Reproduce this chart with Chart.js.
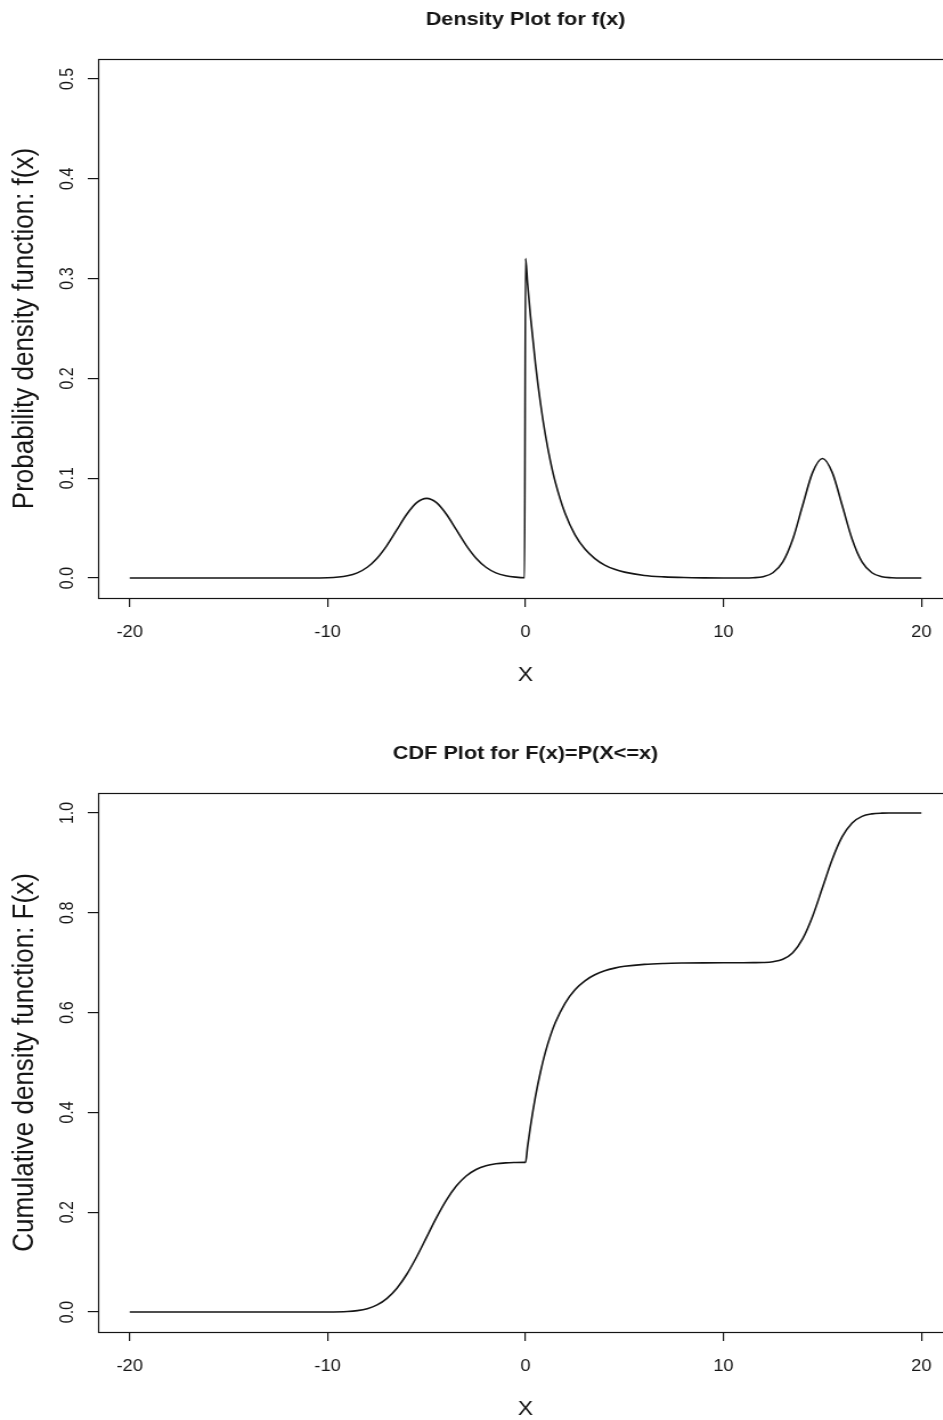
<!DOCTYPE html>
<html>
<head>
<meta charset="utf-8">
<title>Density and CDF plots</title>
<script src="https://cdn.jsdelivr.net/npm/chart.js@4.4.1/dist/chart.umd.min.js"></script>
<style>
  html, body { margin: 0; padding: 0; background: #fff; overflow: hidden; }
  body { width: 943px; height: 1420px; position: relative; }
  /* plots are drawn narrow and widened, so text is stretched like the rest */
  .panel { position: absolute; left: 0; width: 850px; height: 710px; transform: scaleX(1.14); transform-origin: 0 0; }
  #densityPanel { top: 0; }
  #cdfPanel { top: 734px; }
</style>
</head>
<body>
<div class="panel" id="densityPanel"><canvas id="densityChart" width="850" height="710"></canvas></div>
<div class="panel" id="cdfPanel"><canvas id="cdfChart" width="850" height="710"></canvas></div>
<script>
const FONT = "'Liberation Sans', Arial, Helvetica, sans-serif";
const INK = '#151515';

// mixture: normal around -5, exponential from 0, normal around 15
const xValues = [
  -20, -15, -11, -10, -9, -8.5, -8, -7.5, -7, -6.5, -6, -5.5, -5,
  -4.5, -4, -3.5, -3, -2.5, -2, -1.5, -1, -0.5, -0.05, 0, 0.1, 0.25,
  0.5, 0.75, 1, 1.25, 1.5, 2, 2.5, 3, 3.5, 4, 4.5, 5, 6, 7, 8, 9, 10,
  11, 11.5, 12, 12.5, 13, 13.5, 14, 14.5, 15, 15.5, 16, 16.5, 17, 17.5, 18, 18.5, 19, 20
];
const densityValues = [
  0, 0, 0.00003, 0.0003, 0.0023, 0.0052, 0.0108, 0.0199, 0.0328, 0.0484, 0.0639, 0.0755, 0.0798,
  0.0755, 0.0639, 0.0484, 0.0328, 0.0199, 0.0108, 0.0052, 0.0023, 0.0009, 0.0003, 0.3203, 0.2955, 0.2622,
  0.2146, 0.1756, 0.1438, 0.1177, 0.0964, 0.0646, 0.0433, 0.029, 0.0195, 0.013, 0.0087, 0.0059, 0.0026, 0.0012, 0.0005, 0.0002, 0.0001,
  0.0001, 0.0003, 0.0013, 0.0053, 0.0162, 0.0389, 0.0726, 0.1056, 0.1197, 0.1056, 0.0726, 0.0389, 0.0162, 0.0053, 0.0013, 0.0003, 0, 0
];
const cdfValues = [
  0, 0, 0, 0.0001, 0.0011, 0.0029, 0.0068, 0.0143, 0.0274, 0.0476, 0.0757, 0.1108, 0.15,
  0.1892, 0.2243, 0.2524, 0.2726, 0.2857, 0.2932, 0.2971, 0.2989, 0.2996, 0.2999, 0.2999, 0.3308, 0.3725,
  0.4319, 0.4805, 0.5203, 0.5528, 0.5795, 0.6192, 0.6459, 0.6637, 0.6757, 0.6837, 0.6891, 0.6927, 0.6967, 0.6985, 0.6993, 0.6997, 0.6999,
  0.7, 0.7001, 0.7004, 0.7019, 0.7068, 0.72, 0.7476, 0.7926, 0.85, 0.9074, 0.9524, 0.98, 0.9932, 0.9981, 0.9996, 0.9999, 1, 1
];
const xTicks = [-20, -10, 0, 10, 20];
const densityTicks = [0, 0.1, 0.2, 0.3, 0.4, 0.5];
const cdfTicks = [0, 0.2, 0.4, 0.6, 0.8, 1.0];

// box round the plot region and the bold main title centred over it
const framePlugin = {
  id: 'frame',
  afterDraw(chart, args, opts) {
    const { ctx, chartArea: a } = chart;
    ctx.save();
    ctx.strokeStyle = INK;
    ctx.lineWidth = 1.2;
    ctx.strokeRect(Math.round(a.left) + 0.5, Math.round(a.top) + 0.5, Math.round(a.right - a.left), Math.round(a.bottom - a.top));
    ctx.fillStyle = INK;
    ctx.font = `bold 19px ${FONT}`;
    ctx.textAlign = 'center';
    ctx.textBaseline = 'middle';
    ctx.fillText(opts.text, (a.left + a.right) / 2, a.top - 39);
    ctx.restore();
  }
};

function fixedTicks(values) {
  return (scale) => { scale.ticks = values.map((v) => ({ value: v })); };
}

function makePlot(canvasId, title, yLabel, yValues, yMin, yMax, yTicks) {
  const tickFont = { family: FONT, size: 16 };
  new Chart(document.getElementById(canvasId), {
    type: 'line',
    data: {
      datasets: [{
        data: xValues.map((x, i) => ({ x, y: yValues[i] })),
        borderColor: INK,
        borderWidth: 1.6,
        pointRadius: 0,
        cubicInterpolationMode: 'monotone',
        fill: false,
      }],
    },
    options: {
      responsive: false,
      animation: false,
      events: [],
      layout: { padding: { top: 59, left: 0, right: 14, bottom: 12 } },
      plugins: { legend: { display: false }, tooltip: { enabled: false }, frame: { text: title } },
      scales: {
        x: {
          type: 'linear', min: -21.6, max: 21.6,
          afterBuildTicks: fixedTicks(xTicks),
          afterFit: (s) => { s.height = 100; },
          grid: { drawOnChartArea: false, tickLength: 9, tickColor: INK, lineWidth: 1.2 },
          border: { display: false },
          ticks: { autoSkip: false, maxRotation: 0, padding: 16, color: INK, font: tickFont, callback: (v) => String(v) },
          title: { display: true, text: 'X', color: INK, font: { family: FONT, size: 20 }, padding: { top: 0, bottom: 11 } },
        },
        y: {
          type: 'linear', min: yMin, max: yMax,
          afterBuildTicks: fixedTicks(yTicks),
          afterFit: (s) => { s.width = 86; },
          grid: { drawOnChartArea: false, tickLength: 9, tickColor: INK, lineWidth: 1.2 },
          border: { display: false },
          ticks: { autoSkip: false, minRotation: 90, maxRotation: 90, crossAlign: 'center', padding: 6, color: INK, font: tickFont, callback: (v) => v.toFixed(1) },
          title: { display: true, text: yLabel, color: INK, font: { family: FONT, size: 26 }, padding: { top: 6, bottom: 0 } },
        },
      },
    },
    plugins: [framePlugin],
  });
}

makePlot('densityChart', 'Density Plot for f(x)', 'Probability density function: f(x)', densityValues, -0.02, 0.52, densityTicks);
makePlot('cdfChart', 'CDF Plot for F(x)=P(X<=x)', 'Cumulative density function: F(x)', cdfValues, -0.04, 1.04, cdfTicks);
</script>
</body>
</html>
